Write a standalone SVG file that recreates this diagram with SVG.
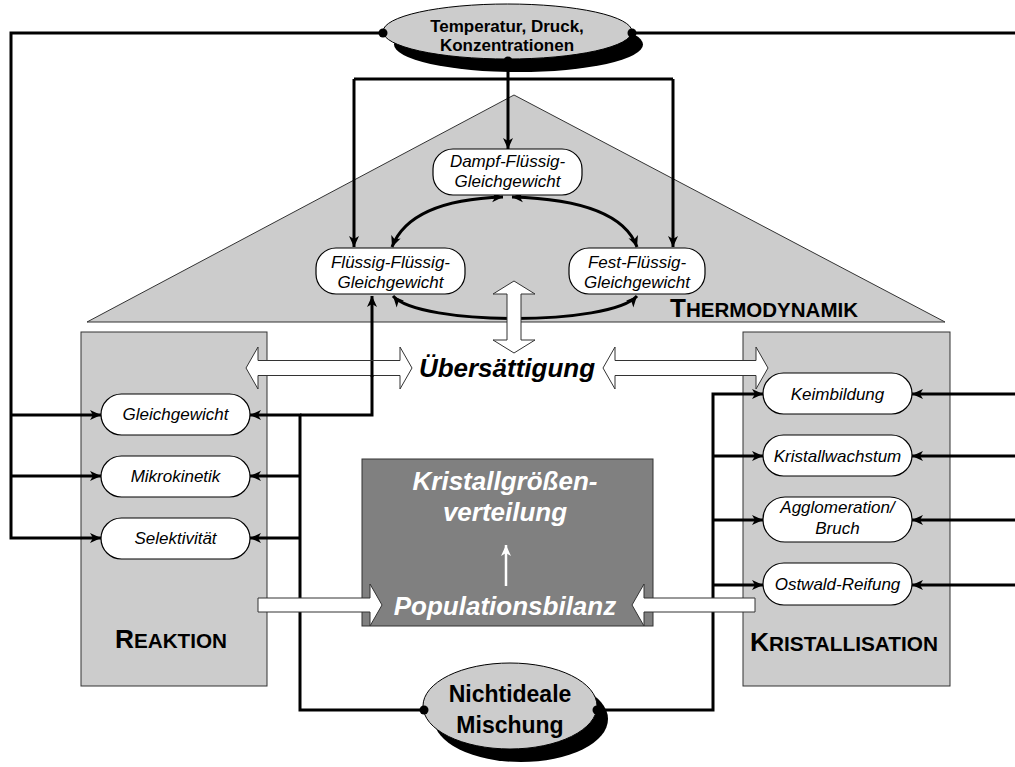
<svg xmlns="http://www.w3.org/2000/svg" width="1015" height="767" viewBox="0 0 1015 767">
<style>
.area{fill:#cccccc;stroke:#333333;stroke-width:1}
.node rect{fill:#ffffff;stroke:#000000;stroke-width:1.2}
.it{font-family:"Liberation Sans",Arial,sans-serif;font-style:italic;font-size:17px;text-anchor:middle;fill:#000}
.bd{font-family:"Liberation Sans",Arial,sans-serif;font-weight:bold;text-anchor:middle;fill:#000}
.cap{font-family:"Liberation Sans",Arial,sans-serif;font-weight:bold;font-size:20.5px;fill:#000}
.big{font-family:"Liberation Sans",Arial,sans-serif;font-weight:bold;font-style:italic;font-size:26px;text-anchor:middle}
.con{fill:none;stroke:#000;stroke-width:3}
.blk{fill:#ffffff;stroke:#333333;stroke-width:1}
.dot{fill:#000}
</style>
<defs>
<marker id="ah" markerUnits="userSpaceOnUse" markerWidth="12" markerHeight="12" refX="11" refY="5" orient="auto-start-reverse" viewBox="0 0 12 10">
<path d="M0,0 L11,5 L0,10 L3,5 z" fill="#000"/>
</marker>
<marker id="wh" markerUnits="userSpaceOnUse" markerWidth="12" markerHeight="12" refX="11" refY="5" orient="auto" viewBox="0 0 12 10">
<path d="M0,0 L11,5 L0,10 L3,5 z" fill="#fff"/>
</marker>
</defs>
<rect width="1015" height="767" fill="#ffffff"/>

<g id="thermodynamik">
<polygon class="area" points="87,322 514,95 945,322"/>
<text class="cap" x="670" y="317" textLength="188" lengthAdjust="spacingAndGlyphs"><tspan font-size="26">T</tspan>HERMODYNAMIK</text>
</g>
<g id="reaktion">
<rect class="area" x="81" y="332" width="186" height="354"/>
<text class="cap" x="115" y="648" textLength="112" lengthAdjust="spacingAndGlyphs"><tspan font-size="26">R</tspan>EAKTION</text>
</g>
<g id="kristallisation">
<rect class="area" x="743" y="332" width="207" height="354"/>
<text class="cap" x="750" y="651" textLength="188" lengthAdjust="spacingAndGlyphs"><tspan font-size="26">K</tspan>RISTALLISATION</text>
</g>

<g id="kgv">
<rect x="362" y="459" width="291" height="167" fill="#808080" stroke="#333" stroke-width="1"/>
<text class="big" x="505" y="490" fill="#fff" font-size="25">Kristallgrößen-</text>
<text class="big" x="505" y="521" fill="#fff" font-size="25">verteilung</text>
<line x1="506" y1="586" x2="506" y2="545" stroke="#fff" stroke-width="2.5" marker-end="url(#wh)"/>
<text class="big" x="505" y="615" fill="#fff">Populationsbilanz</text>
</g>

<g id="uebersaettigung">
<text class="big" x="507" y="377" fill="#000">Übersättigung</text>
</g>

<g id="connectors">
<path class="con" d="M383,33 H11 V538 H101" marker-end="url(#ah)"/>
<path class="con" d="M11,415 H101" marker-end="url(#ah)"/>
<path class="con" d="M11,476 H101" marker-end="url(#ah)"/>
<path class="con" d="M632,33 H1015"/>
<path class="con" d="M1015,394 H912" marker-end="url(#ah)"/>
<path class="con" d="M1015,456 H912" marker-end="url(#ah)"/>
<path class="con" d="M1015,520 H912" marker-end="url(#ah)"/>
<path class="con" d="M1015,585 H912" marker-end="url(#ah)"/>
<path class="con" d="M508,61 V149" marker-end="url(#ah)"/>
<path class="con" d="M354,79 H673"/>
<path class="con" d="M354,79 V247" marker-end="url(#ah)"/>
<path class="con" d="M673,79 V247" marker-end="url(#ah)"/>
<path class="con" d="M424,710 H300 V415 H250" marker-end="url(#ah)"/>
<path class="con" d="M300,415 H372 V296" marker-end="url(#ah)"/>
<path class="con" d="M300,476 H250" marker-end="url(#ah)"/>
<path class="con" d="M300,538 H250" marker-end="url(#ah)"/>
<path class="con" d="M597,710 H713 V394 H763" marker-end="url(#ah)"/>
<path class="con" d="M713,456 H763" marker-end="url(#ah)"/>
<path class="con" d="M713,520 H763" marker-end="url(#ah)"/>
<path class="con" d="M713,585 H763" marker-end="url(#ah)"/>
<path class="con" d="M503,197 Q410,200 392,247" marker-start="url(#ah)" marker-end="url(#ah)"/>
<path class="con" d="M512,197 Q620,200 637,247" marker-start="url(#ah)" marker-end="url(#ah)"/>
<path class="con" d="M393,296 C420,326 610,326 637,296" marker-start="url(#ah)" marker-end="url(#ah)"/>
</g>

<g id="blockarrows">
<polygon class="blk" points="246,368 258,347 258,360.5 400,360.5 400,347 412,368 400,389 400,375.5 258,375.5 258,389"/>
<polygon class="blk" points="603,368 615,347 615,360.5 756,360.5 756,347 768,368 756,389 756,375.5 615,375.5 615,389"/>
<polygon class="blk" points="514,281 535,294 521,294 521,340 535,340 514,353 493,340 507,340 507,294 493,294"/>
<polygon class="blk" points="258,598 370,598 370,584 382,605 370,626 370,612 258,612"/>
<polygon class="blk" points="755,598 644,598 644,584 632,605 644,626 644,612 755,612"/>
</g>
<g id="connectors-over">
<path class="con" d="M372,377 V361"/>
</g>

<g id="temperatur">
<ellipse cx="518.5" cy="44.5" rx="124.5" ry="27.5" fill="#000"/>
<ellipse cx="507.5" cy="31.5" rx="124.5" ry="27.5" fill="#cccccc" stroke="#000" stroke-width="1"/>
<text class="bd" x="507" y="32" font-size="17">Temperatur, Druck,</text>
<text class="bd" x="507" y="51" font-size="17">Konzentrationen</text>
</g>
<g id="mischung">
<ellipse cx="521" cy="719" rx="87" ry="43" fill="#000"/>
<ellipse cx="510" cy="706" rx="87" ry="43" fill="#cccccc" stroke="#000" stroke-width="1"/>
<text class="bd" x="510" y="702" font-size="23">Nichtideale</text>
<text class="bd" x="510" y="733" font-size="23">Mischung</text>
</g>

<g id="dots">
<circle class="dot" cx="383" cy="33" r="4.5"/>
<circle class="dot" cx="632" cy="33" r="4.5"/>
<circle class="dot" cx="508" cy="61" r="4.5"/>
<circle class="dot" cx="424" cy="710" r="4.5"/>
<circle class="dot" cx="597" cy="710" r="4.5"/>
</g>

<g id="dampf-fluessig" class="node">
<rect x="433" y="149" width="149" height="46" rx="20"/>
<text class="it" x="507.5" y="167">Dampf-Flüssig-</text>
<text class="it" x="507.5" y="187">Gleichgewicht</text>
</g>
<g id="fluessig-fluessig" class="node">
<rect x="316" y="248" width="149" height="46" rx="20"/>
<text class="it" x="390.5" y="268">Flüssig-Flüssig-</text>
<text class="it" x="390.5" y="288">Gleichgewicht</text>
</g>
<g id="fest-fluessig" class="node">
<rect x="569" y="248" width="136" height="46" rx="20"/>
<text class="it" x="637" y="268">Fest-Flüssig-</text>
<text class="it" x="637" y="288">Gleichgewicht</text>
</g>

<g id="gleichgewicht" class="node">
<rect x="101" y="394" width="149" height="41" rx="20.5"/>
<text class="it" x="175.5" y="420">Gleichgewicht</text>
</g>
<g id="mikrokinetik" class="node">
<rect x="101" y="456" width="149" height="41" rx="20.5"/>
<text class="it" x="175.5" y="482">Mikrokinetik</text>
</g>
<g id="selektivitaet" class="node">
<rect x="101" y="518" width="149" height="41" rx="20.5"/>
<text class="it" x="175.5" y="544">Selektivität</text>
</g>

<g id="keimbildung" class="node">
<rect x="763" y="373" width="149" height="41" rx="20.5"/>
<text class="it" x="837.5" y="400">Keimbildung</text>
</g>
<g id="kristallwachstum" class="node">
<rect x="763" y="435" width="149" height="41" rx="20.5"/>
<text class="it" x="837.5" y="462">Kristallwachstum</text>
</g>
<g id="agglomeration" class="node">
<rect x="763" y="497" width="149" height="45" rx="22"/>
<text class="it" x="837.5" y="513">Agglomeration/</text>
<text class="it" x="837.5" y="534">Bruch</text>
</g>
<g id="ostwald" class="node">
<rect x="763" y="563" width="149" height="42" rx="21"/>
<text class="it" x="837.5" y="590">Ostwald-Reifung</text>
</g>
</svg>
